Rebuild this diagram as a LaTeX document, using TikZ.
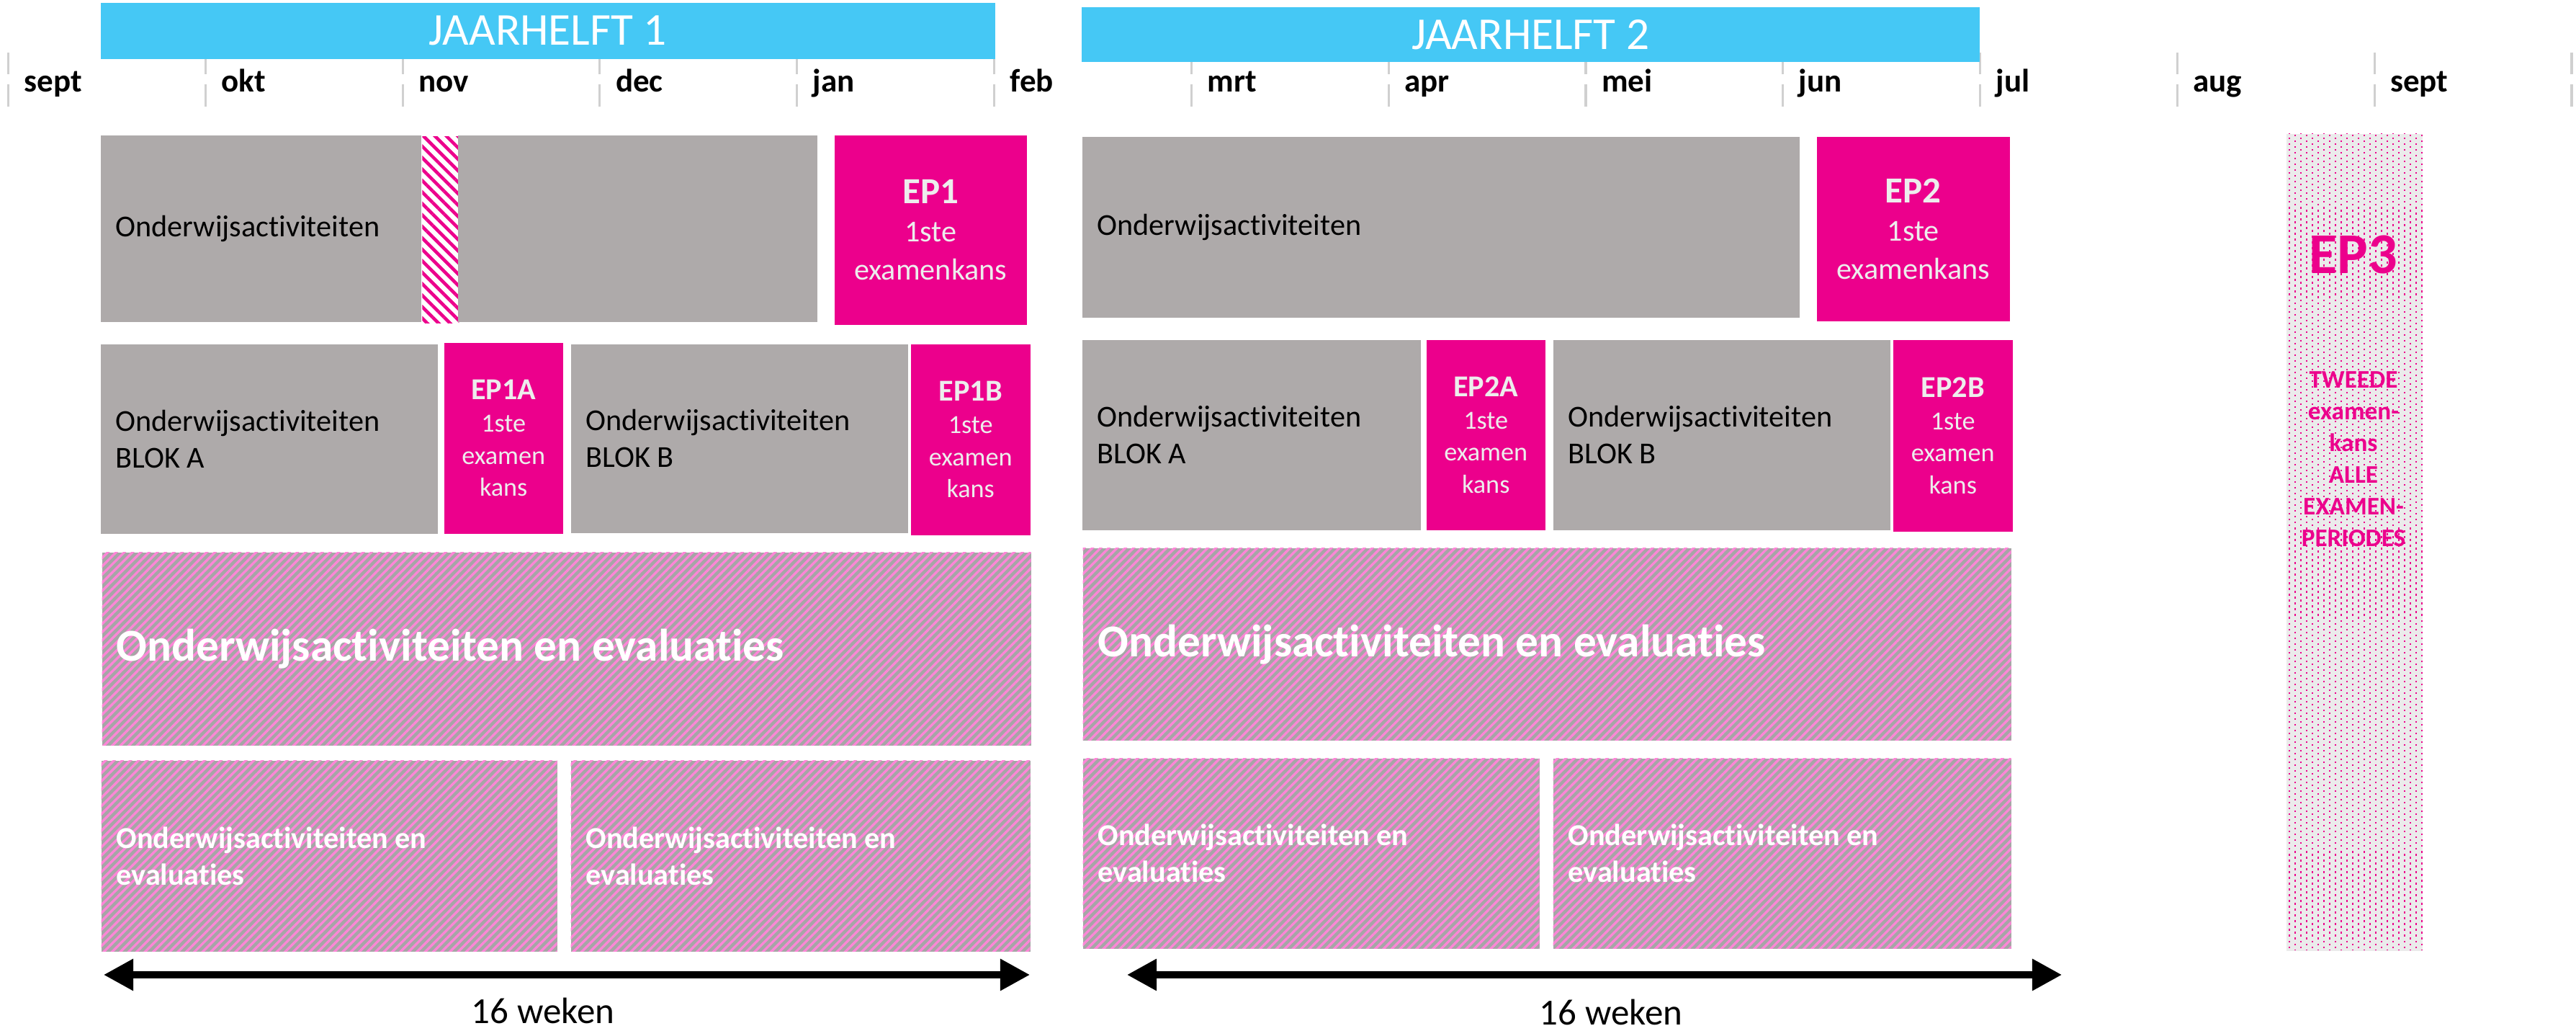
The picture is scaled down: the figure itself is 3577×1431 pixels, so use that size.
\documentclass[tikz,border=0pt]{standalone}
\usepackage{fontspec}
\setmainfont{Carlito}[Ligatures=NoCommon]
\usetikzlibrary{arrows.meta,patterns.meta}

\definecolor{jhblauw}{HTML}{45C8F5}
\definecolor{vakgrijs}{HTML}{AEAAAA}
\definecolor{eproze}{HTML}{EC008C}
\definecolor{eptekst}{HTML}{EDEDED}
\definecolor{streepgrijs}{HTML}{A6A6A6}
\definecolor{streeproze}{HTML}{FF85D8}
\definecolor{ep3grijs}{HTML}{EBEBEB}
\definecolor{lijngrijs}{HTML}{D0D0D0}

\tikzset{
  vak/.style 2 args={rectangle, anchor=north west, inner sep=0pt,
    minimum width=#1*0.01cm, minimum height=#2*0.01cm},
  grijsvak/.style={fill=vakgrijs},
  epvak/.style={fill=eproze, text=eptekst, align=center},
  streepvak/.style={preaction={fill=streepgrijs},
    pattern={Lines[angle=45,distance=2.3pt,line width=0.95pt]}, pattern color=streeproze},
  novvak/.style={preaction={fill=white},
    pattern={Lines[angle=-45,distance=3.2pt,line width=1.3pt]}, pattern color=eproze},
  balk/.style={fill=jhblauw, text=white, font=\fontsize{18}{21}\selectfont},
  maand/.style={anchor=base west, inner sep=0pt, font=\bfseries\fontsize{12.8}{15}\selectfont},
  grijstekst/.style={anchor=west, inner xsep=0.21cm, inner ysep=0pt, align=left,
    font=\fontsize{12}{14.5}\selectfont},
  wittekst/.style={grijstekst, text=white, font=\bfseries\fontsize{12}{14.5}\selectfont},
  pijl/.style={{Triangle[length=11.7pt,width=12pt]}-{Triangle[length=11.7pt,width=12pt]},
    line width=2.6pt},
}

\begin{document}
\begin{tikzpicture}[x=0.01cm, y=-0.01cm]
  \useasboundingbox (0,0) rectangle (3577,1431);

  % Maanden en scheidingslijnen
  \foreach \i in {0,...,13}{
    \pgfmathsetmacro\mx{11.5+273.8*\i}
    \draw[lijngrijs, line width=0.9pt] (\mx,73) -- (\mx,103) (\mx,117) -- (\mx,148);
  }
  \foreach \m [count=\i from 0] in {sept,okt,nov,dec,jan,feb,mrt,apr,mei,jun,jul,aug,sept}
    \node[maand] (maand\i) at (33+273.8*\i,128) {\m};

  % Jaarhelften
  \node[vak={1242}{78}, balk] (jh1) at (139,3) {JAARHELFT 1};
  \node[vak={1247}{76}, balk] (jh2) at (1501,9) {JAARHELFT 2};

  % Jaarhelft 1, rij 1
  \node[vak={445}{259}, grijsvak] (oa1) at (139,187) {};
  \node[vak={51}{259}, novvak] (nov1) at (584,187) {};
  \node[vak={499}{259}, grijsvak] (oa1b) at (635,187) {};
  \node[grijstekst] (t-oa1) at (oa1.west) {Onderwijsactiviteiten};
  \node[vak={267}{263}, epvak, font=\fontsize{12}{15}\selectfont] (ep1) at (1158,187)
    {{\bfseries\fontsize{14.5}{15}\selectfont EP1}\\1ste\\examenkans};

  % Jaarhelft 1, rij 2
  \node[vak={468}{263}, grijsvak] (blok1a) at (139,477) {};
  \node[grijstekst] (t-blok1a) at (blok1a.west) {Onderwijsactiviteiten\\BLOK A};
  \node[vak={165}{265}, epvak, font=\fontsize{10.3}{12.7}\selectfont] (ep1a) at (616,475)
    {{\bfseries\fontsize{12}{12.7}\selectfont EP1A}\\1ste\\examen\\kans};
  \node[vak={468}{262}, grijsvak] (blok1b) at (792,477) {};
  \node[grijstekst] (t-blok1b) at (blok1b.west) {Onderwijsactiviteiten\\BLOK B};
  \node[vak={166}{265}, epvak, font=\fontsize{10.3}{12.7}\selectfont] (ep1b) at (1264,477)
    {{\bfseries\fontsize{12}{12.7}\selectfont EP1B}\\1ste\\examen\\kans};

  % Jaarhelft 1, rij 3 en 4
  \node[vak={1290}{268}, streepvak] (oe1) at (140,765) {};
  \node[wittekst, font=\bfseries\fontsize{18}{21}\selectfont] (t-oe1) at (oe1.west)
    {Onderwijsactiviteiten en evaluaties};
  \node[vak={633}{265}, streepvak] (oe1a) at (140,1055) {};
  \node[wittekst] (t-oe1a) at (oe1a.west) {Onderwijsactiviteiten en\\evaluaties};
  \node[vak={638}{265}, streepvak] (oe1b) at (792,1055) {};
  \node[wittekst] (t-oe1b) at (oe1b.west) {Onderwijsactiviteiten en\\evaluaties};

  % Jaarhelft 2, rij 1
  \node[vak={996}{251}, grijsvak] (oa2) at (1502,189) {};
  \node[grijstekst] (t-oa2) at (oa2.west) {Onderwijsactiviteiten};
  \node[vak={268}{256}, epvak, font=\fontsize{12}{15}\selectfont] (ep2) at (2522,189)
    {{\bfseries\fontsize{14.5}{15}\selectfont EP2}\\1ste\\examenkans};

  % Jaarhelft 2, rij 2
  \node[vak={470}{264}, grijsvak] (blok2a) at (1502,471) {};
  \node[grijstekst] (t-blok2a) at (blok2a.west) {Onderwijsactiviteiten\\BLOK A};
  \node[vak={165}{264}, epvak, font=\fontsize{10.3}{12.7}\selectfont] (ep2a) at (1980,471)
    {{\bfseries\fontsize{12}{12.7}\selectfont EP2A}\\1ste\\examen\\kans};
  \node[vak={468}{264}, grijsvak] (blok2b) at (2156,471) {};
  \node[grijstekst] (t-blok2b) at (blok2b.west) {Onderwijsactiviteiten\\BLOK B};
  \node[vak={166}{266}, epvak, font=\fontsize{10.3}{12.7}\selectfont] (ep2b) at (2628,471)
    {{\bfseries\fontsize{12}{12.7}\selectfont EP2B}\\1ste\\examen\\kans};

  % Jaarhelft 2, rij 3 en 4
  \node[vak={1289}{267}, streepvak] (oe2) at (1503,760) {};
  \node[wittekst, font=\bfseries\fontsize{18}{21}\selectfont] (t-oe2) at (oe2.west)
    {Onderwijsactiviteiten en evaluaties};
  \node[vak={634}{264}, streepvak] (oe2a) at (1503,1052) {};
  \node[wittekst] (t-oe2a) at (oe2a.west) {Onderwijsactiviteiten en\\evaluaties};
  \node[vak={636}{264}, streepvak] (oe2b) at (2156,1052) {};
  \node[wittekst] (t-oe2b) at (oe2b.west) {Onderwijsactiviteiten en\\evaluaties};

  % EP3 (tweede examenkans)
  \node[vak={189}{1134}, fill=ep3grijs] (ep3) at (3174,185) {};
  \begin{scope}
    \clip (ep3.south west) rectangle (ep3.north east);
    \foreach \k in {0,...,23}{
      \pgfmathsetmacro\fase{mod(\k,2)==0 ? 0.57 : 1.71}
      \draw[eproze, line width=0.65pt, dash pattern=on 0.65pt off 1.63pt, dash phase=\fase pt]
        (3179+8*\k,185) -- (3179+8*\k,1319);
    }
  \end{scope}
  \node[anchor=base, inner sep=0pt, text=eproze, font=\bfseries\fontsize{22.8}{26}\selectfont]
    (ep3titel) at (3268,380) {EP3};
  \node[anchor=north, inner sep=0pt, text=eproze, align=center, font=\bfseries\fontsize{10}{12.5}\selectfont]
    (ep3tekst) at (3268,515) {TWEEDE\\examen-\\kans\\ALLE\\EXAMEN-\\PERIODES};

  % Duur van de jaarhelften
  \coordinate (p1a) at (144,1353);
  \coordinate (p1b) at (1430,1353);
  \draw[pijl] (p1a) -- (p1b);
  \node[anchor=base, font=\fontsize{14.5}{17}\selectfont] (w1) at (754,1420) {16 weken};
  \coordinate (p2a) at (1565,1353);
  \coordinate (p2b) at (2863,1353);
  \draw[pijl] (p2a) -- (p2b);
  \node[anchor=base, font=\fontsize{14.5}{17}\selectfont] (w2) at (2237,1422) {16 weken};
\end{tikzpicture}
\end{document}
